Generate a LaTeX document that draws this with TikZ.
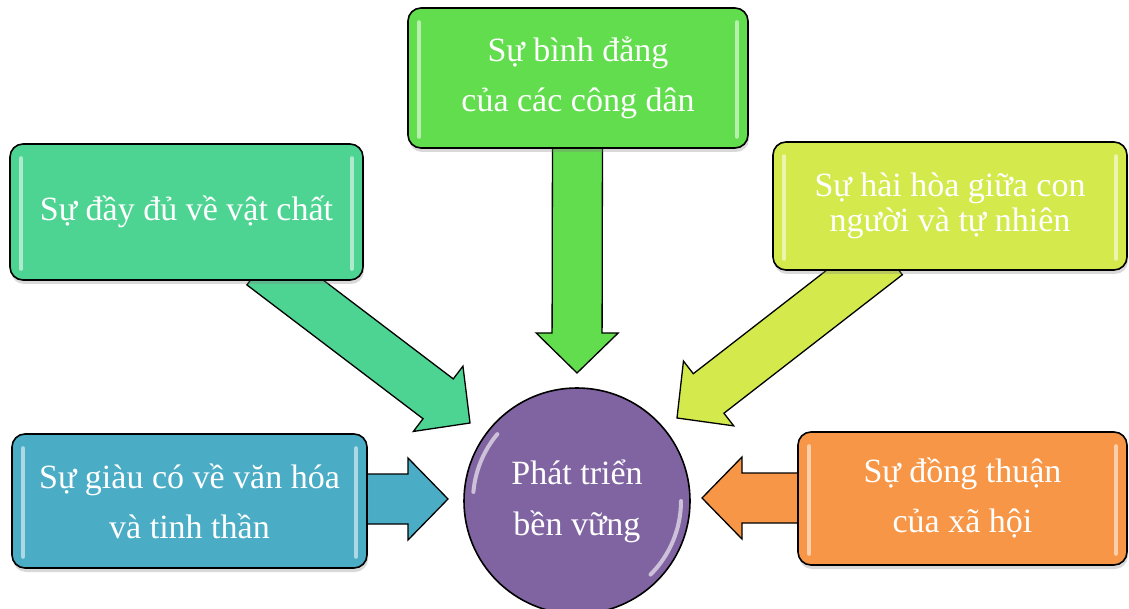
\documentclass[tikz,border=0pt]{standalone}
\usepackage{fontspec}
\setmainfont{Liberation Serif}
\usetikzlibrary{calc,shadows}

\definecolor{eqgreen}{HTML}{62DD4E}
\definecolor{matgreen}{HTML}{4DD492}
\definecolor{harlime}{HTML}{D4EA4C}
\definecolor{culblue}{HTML}{4BACC6}
\definecolor{conorange}{HTML}{F79646}
\definecolor{devpurple}{HTML}{8064A2}

% block arrow: #1 tail point, #2 tip point, #3 fill colour
\newcommand{\blockarrow}[3]{%
  \coordinate (ah) at ($(#2)!40pt!(#1)$);
  \filldraw[arrowline, fill=#3]
    ($(#1)!25pt!90:(#2)$) -- ($(ah)!25pt!90:(#2)$) -- ($(ah)!41pt!90:(#2)$)
    -- (#2)
    -- ($(ah)!41pt!-90:(#2)$) -- ($(ah)!25pt!-90:(#2)$) -- ($(#1)!25pt!-90:(#2)$)
    -- cycle;
}
% glossy strips along the short sides of a box
\newcommand{\gloss}[1]{%
  \draw[glossline] ($(#1.north west)+(12,15)$) -- ($(#1.south west)+(12,-12)$);
  \draw[glossline] ($(#1.north east)+(-12,15)$) -- ($(#1.south east)+(-12,-12)$);
}

\tikzset{
  arrowline/.style={draw=black, line width=1.3pt, line join=miter},
  box/.style={draw=black, line width=1.6pt, rounded corners=13pt, inner sep=0pt,
    text=white, align=center, font=\fontsize{34}{50}\selectfont,
    drop shadow={opacity=0.3, shadow xshift=1pt, shadow yshift=-4pt}},
  glossline/.style={white, line width=4pt, opacity=0.55, line cap=round},
  hub/.style={circle, draw=black, line width=1.6pt, fill=devpurple, inner sep=0pt,
    minimum size=226pt, text=white, align=center, font=\fontsize{34}{51}\selectfont},
}

\begin{document}
\begin{tikzpicture}[x=1pt, y=-1pt]
  \useasboundingbox (0,0) rectangle (1129,609);

  % arrow ends
  \coordinate (eqtail)  at (577.5,130);
  \coordinate (eqtip)   at (577,373);
  \coordinate (mattail) at (262,265);
  \coordinate (mattip)  at (470,423);
  \coordinate (hartail) at (887,255);
  \coordinate (hartip)  at (677,418);
  \coordinate (cultail) at (345,499);
  \coordinate (cultip)  at (448,499);
  \coordinate (contail) at (820,498);
  \coordinate (contip)  at (702,498);

  % arrows pointing at the hub
  \blockarrow{eqtail}{eqtip}{eqgreen}
  \blockarrow{mattail}{mattip}{matgreen}
  \blockarrow{hartail}{hartip}{harlime}
  \blockarrow{cultail}{cultip}{culblue}
  \blockarrow{contail}{contip}{conorange}

  % the five boxes
  \node[box, fill=eqgreen, minimum width=340pt, minimum height=140pt] (eq) at (578,78)
    {Sự bình đẳng\\của các công dân};
  \node[box, fill=matgreen, minimum width=353pt, minimum height=136pt] (mat) at (186.5,212)
    {Sự đầy đủ về vật chất};
  \node[box, fill=harlime, minimum width=354pt, minimum height=128pt,
        font=\fontsize{34}{35}\selectfont] (har) at (950,206)
    {Sự hài hòa giữa con\\người và tự nhiên};
  \node[box, fill=culblue, minimum width=355pt, minimum height=134pt] (cul) at (189.5,501)
    {Sự giàu có về văn hóa\\và tinh thần};
  \node[box, fill=conorange, minimum width=329pt, minimum height=133pt] (con) at (962.5,498.5)
    {Sự đồng thuận\\của xã hội};

  \gloss{eq}
  \gloss{mat}
  \gloss{har}
  \gloss{cul}
  \gloss{con}

  % central hub
  \node[hub] (dev) at (577,501) {Phát triển\\bền vững};
  \draw[glossline, opacity=0.6] (dev.center) ++(140:104pt) arc[start angle=140, end angle=175, radius=104pt];
  \draw[glossline, opacity=0.6] (dev.center) ++(-45:104pt) arc[start angle=-45, end angle=0, radius=104pt];
\end{tikzpicture}
\end{document}
